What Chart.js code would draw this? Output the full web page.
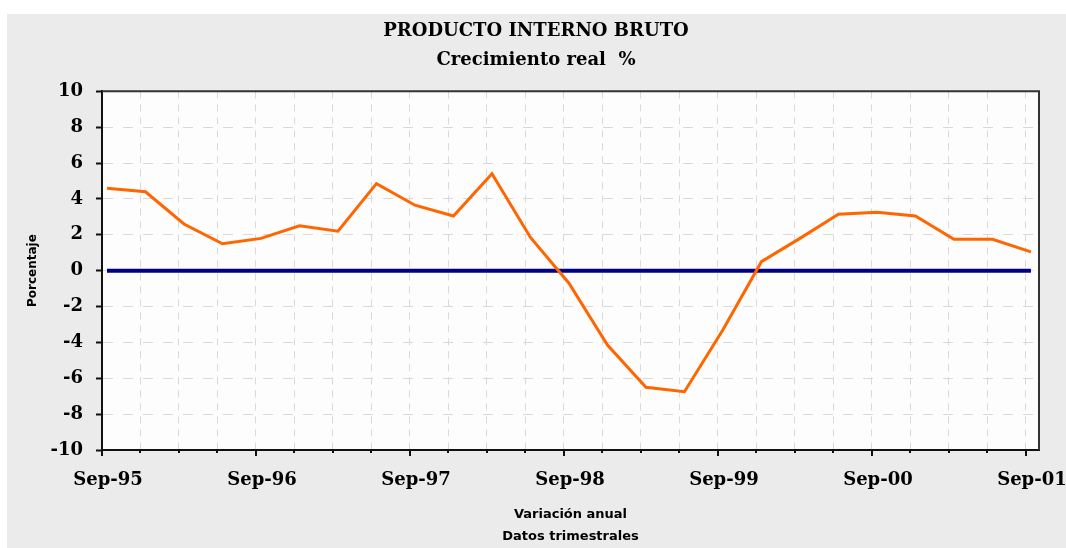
<!DOCTYPE html>
<html>
<head>
<meta charset="utf-8">
<script src="https://cdn.jsdelivr.net/npm/chart.js@4"></script>
<style>
  html, body { margin: 0; padding: 0; background: #ffffff; }
  #wrap { width: 1066px; height: 548px; }
</style>
</head>
<body>
<div id="wrap"><canvas id="c" width="1066" height="548"></canvas></div>
<script>
// Quarterly periods (Sep-95 .. Sep-01)
const quarters = [
  'Sep-95','Dic-95','Mar-96','Jun-96',
  'Sep-96','Dic-96','Mar-97','Jun-97',
  'Sep-97','Dic-97','Mar-98','Jun-98',
  'Sep-98','Dic-98','Mar-99','Jun-99',
  'Sep-99','Dic-99','Mar-00','Jun-00',
  'Sep-00','Dic-00','Mar-01','Jun-01',
  'Sep-01'
];
// Real GDP growth, annual variation (%)
const pibGrowth = [
  4.6, 4.4, 2.6, 1.5,
  1.8, 2.5, 2.2, 4.85,
  3.65, 3.05, 5.4, 1.85,
  -0.7, -4.15, -6.5, -6.75,
  -3.3, 0.5, 1.8, 3.15,
  3.25, 3.05, 1.75, 1.75,
  1.05
];
// Reference zero line
const zeroLine = [
  0, 0, 0, 0, 0, 0, 0, 0, 0, 0, 0, 0, 0,
  0, 0, 0, 0, 0, 0, 0, 0, 0, 0, 0, 0
];
const yTicks = [-10, -8, -6, -4, -2, 0, 2, 4, 6, 8, 10];
const titleText = 'PRODUCTO INTERNO BRUTO';
const subtitleText = 'Crecimiento real  %';
const yTitle = 'Porcentaje';
const xTitle = ['Variación anual', 'Datos trimestrales'];

const TICK_SHIFT = -0.13; // ticks sit slightly left of the data points

const framePlugin = {
  id: 'frame',
  beforeDraw(chart) {
    const ctx = chart.ctx;
    const a = chart.chartArea;
    ctx.save();
    ctx.fillStyle = '#ffffff';
    ctx.fillRect(0, 0, chart.width, chart.height);
    ctx.fillStyle = '#ebebeb';
    ctx.fillRect(7, 14, chart.width - 7, chart.height - 14);
    ctx.fillStyle = '#fdfdfd';
    ctx.fillRect(a.left, a.top, a.right - a.left, a.bottom - a.top);
    ctx.restore();
  },
  afterDraw(chart) {
    const ctx = chart.ctx;
    const a = chart.chartArea;
    const xs = chart.scales.x;
    ctx.save();
    // top + right frame
    ctx.strokeStyle = '#333333';
    ctx.lineWidth = 2;
    ctx.beginPath();
    ctx.moveTo(a.left, a.top);
    ctx.lineTo(a.right, a.top);
    ctx.lineTo(a.right, a.bottom);
    ctx.stroke();
    // x tick marks: major (Sep) long, minor short
    xs.ticks.forEach((t, i) => {
      const px = Math.round(xs.getPixelForValue(t.value));
      const major = quarters[i] && quarters[i].startsWith('Sep');
      ctx.strokeStyle = '#111111';
      ctx.lineWidth = 2;
      ctx.beginPath();
      ctx.moveTo(px, a.bottom);
      ctx.lineTo(px, a.bottom + (major ? 6 : 3));
      ctx.stroke();
    });
    ctx.restore();
  }
};

new Chart(document.getElementById('c'), {
  type: 'line',
  data: {
    datasets: [
      {
        label: 'Crecimiento real',
        data: pibGrowth.map((v, i) => ({ x: i, y: v })),
        borderColor: '#ff6600',
        borderWidth: 3,
        pointRadius: 0,
        tension: 0,
        order: 1
      },
      {
        label: 'Cero',
        data: zeroLine.map((v, i) => ({ x: i, y: v })),
        borderColor: '#000080',
        borderWidth: 4,
        pointRadius: 0,
        tension: 0,
        order: 2
      }
    ]
  },
  options: {
    responsive: false,
    animation: false,
    layout: { padding: { left: 6, right: 0, top: 0, bottom: 0 } },
    plugins: {
      legend: { display: false },
      tooltip: { enabled: false },
      title: {
        display: true,
        text: titleText,
        color: '#000000',
        font: { family: 'DejaVu Serif', weight: 'bold', size: 18, lineHeight: 1.2 },
        padding: { top: 20.5, bottom: 0 }
      },
      subtitle: {
        display: true,
        text: subtitleText,
        color: '#000000',
        font: { family: 'DejaVu Serif', weight: 'bold', size: 18, lineHeight: 1.2 },
        padding: { top: 7.4, bottom: 20.2 }
      }
    },
    scales: {
      x: {
        type: 'linear',
        min: TICK_SHIFT,
        max: 24.21,
        afterBuildTicks(scale) {
          scale.ticks = quarters.map((q, i) => ({ value: i + TICK_SHIFT }));
        },
        afterFit(scale) {
          scale.height = 98;
          scale.paddingLeft = 0;
          scale.paddingRight = 27;
        },
        ticks: {
          autoSkip: false,
          maxRotation: 0,
          padding: 14,
          labelOffset: 6,
          color: '#000000',
          font: { family: 'DejaVu Serif', weight: 'bold', size: 18 },
          callback(value, index) {
            const q = quarters[index];
            return q && q.startsWith('Sep') ? q : '';
          }
        },
        grid: {
          color: '#d9d9d9',
          lineWidth: 1,
          tickLength: 6,
          tickColor: 'rgba(0,0,0,0)'
        },
        border: { display: true, color: '#111111', width: 2, dash: [7, 6] },
        title: {
          display: true,
          text: xTitle,
          color: '#000000',
          font: { family: 'DejaVu Sans', weight: 'bold', size: 13, lineHeight: 1.7 },
          padding: { top: 0, bottom: 0 }
        }
      },
      y: {
        min: -10,
        max: 10,
        afterBuildTicks(scale) {
          scale.ticks = yTicks.map(v => ({ value: v }));
        },
        afterFit(scale) {
          scale.width = 96;
          scale.paddingTop = 0;
          scale.paddingBottom = 0;
        },
        ticks: {
          padding: 13,
          color: '#000000',
          font: { family: 'DejaVu Serif', weight: 'bold', size: 18 }
        },
        grid: {
          color: '#d9d9d9',
          lineWidth: 1,
          tickLength: 6,
          tickColor: '#111111',
          tickWidth: 2
        },
        border: { display: true, color: '#111111', width: 2, dash: [10, 10] },
        title: {
          display: true,
          text: yTitle,
          color: '#000000',
          font: { family: 'DejaVu Sans', weight: 'bold', size: 12, lineHeight: 1.2 },
          padding: { top: 19.8, bottom: 0 }
        }
      }
    }
  },
  plugins: [framePlugin]
});
</script>
</body>
</html>
